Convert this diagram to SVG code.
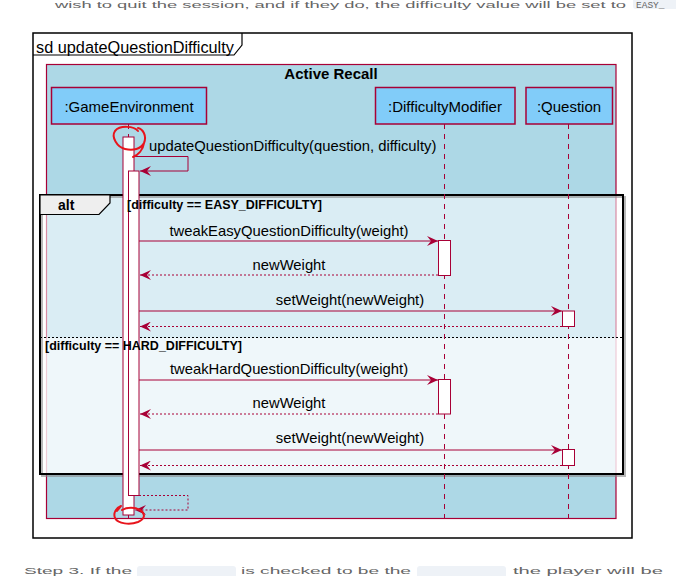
<svg xmlns="http://www.w3.org/2000/svg" width="676" height="576" viewBox="0 0 676 576">
<defs>
<style>
.t{font-family:"Liberation Sans",Arial,sans-serif;fill:#000}
.m{font-size:14.8px}
.p{font-size:15px}
.g{font-size:12.5px;font-weight:bold}
.pg{font-family:"Liberation Sans",Arial,sans-serif;font-size:9.5px;fill:#666}
.ln{stroke:#A80036;stroke-width:1;fill:none}
.dl{stroke:#A80036;stroke-width:1;fill:none;stroke-dasharray:2,2}
.life{stroke:#A80036;stroke-width:1;stroke-dasharray:5,5}
.act{fill:#fff;stroke:#A80036;stroke-width:1}
.part{fill:#81CCF9;stroke:#A80036;stroke-width:1.5}
.red{stroke:#E8141C;stroke-width:2;fill:none;stroke-linecap:round}
</style>
<marker id="ah" markerWidth="12" markerHeight="10" refX="11" refY="5" orient="auto" markerUnits="userSpaceOnUse">
<polygon points="0,0 11,5 0,10 4,5" fill="#A80036"/>
</marker>
</defs>
<rect width="676" height="576" fill="#fff"/>
<!-- page text fragments -->
<g id="page-text">
<text class="pg" x="55" y="8" textLength="571" lengthAdjust="spacingAndGlyphs">wish to quit the session, and if they do, the difficulty value will be set to</text>
<rect x="633" y="-6" width="50" height="15" rx="3" fill="#EEF2F7"/>
<text x="636" y="8" font-family="Liberation Mono,monospace" font-size="9.5" fill="#666">EASY_</text>
<text class="pg" x="24" y="574" textLength="108" lengthAdjust="spacingAndGlyphs">Step 3. If the</text>
<rect x="137" y="566" width="99" height="14" rx="3" fill="#EEF2F7"/>
<text class="pg" x="241" y="574" textLength="170" lengthAdjust="spacingAndGlyphs">is checked to be the</text>
<rect x="417" y="566" width="89" height="14" rx="3" fill="#EEF2F7"/>
<text class="pg" x="513" y="574" textLength="150" lengthAdjust="spacingAndGlyphs">the player will be</text>
</g>

<!-- outer frame -->
<g id="frame">
<rect x="33" y="33" width="599" height="505" fill="#fff" stroke="#000" stroke-width="1.5"/>
<path d="M33,55 H234 L242,45 V33" fill="none" stroke="#000" stroke-width="1.2"/>
<text class="t" x="36" y="53" font-size="16.3">sd updateQuestionDifficulty</text>
</g>

<!-- Active Recall box -->
<g id="box-active-recall">
<rect x="46.5" y="64.5" width="569.5" height="454" fill="#ADD8E6" stroke="#A80036" stroke-width="1.2"/>
<text class="t" x="331" y="79" font-size="15" font-weight="bold" text-anchor="middle">Active Recall</text>
</g>

<!-- alt fragment background -->
<g id="alt">
<rect x="40" y="195" width="583" height="142.5" fill="#fff" fill-opacity="0.55"/>
<rect x="40" y="337.5" width="583" height="136.5" fill="#fff" fill-opacity="0.8"/>
<rect x="42" y="197" width="583" height="279" fill="none" stroke="#888" stroke-width="2" opacity="0.6"/>
<rect x="40" y="195" width="583" height="279" fill="none" stroke="#000" stroke-width="2"/>
<path d="M40,195 H110 V203 L99,214.5 H40 Z" fill="#EEEEEE" stroke="#000" stroke-width="1.2"/>
<text class="t" x="58" y="210" font-size="14" font-weight="bold">alt</text>
<line x1="40" y1="337.5" x2="623" y2="337.5" stroke="#000" stroke-width="1" stroke-dasharray="2,2"/>
</g>

<!-- lifelines -->
<g id="lifelines">
<line class="life" x1="128.5" y1="124" x2="128.5" y2="524"/>
<line class="life" x1="444.5" y1="124" x2="444.5" y2="524"/>
<line class="life" x1="568.5" y1="124" x2="568.5" y2="524"/>
</g>

<!-- participants -->
<g id="p-game">
<rect class="part" x="51.5" y="87.5" width="155" height="36.5"/>
<text class="t p" x="129" y="112" text-anchor="middle">:GameEnvironment</text>
</g>
<g id="p-difficulty">
<rect class="part" x="375.5" y="87.5" width="139.5" height="36.5"/>
<text class="t p" x="445" y="112" text-anchor="middle">:DifficultyModifier</text>
</g>
<g id="p-question">
<rect class="part" x="526" y="87.5" width="86.5" height="36.5"/>
<text class="t p" x="569" y="112" text-anchor="middle">:Question</text>
</g>

<!-- activations -->
<g id="activations">
<rect class="act" x="123" y="137" width="11" height="378"/>
<rect class="act" x="128.5" y="171" width="10.5" height="324.5"/>
<rect class="act" x="438.5" y="240.5" width="12" height="35"/>
<rect class="act" x="562.5" y="311" width="12" height="15.5"/>
<rect class="act" x="438.5" y="379.5" width="12" height="34.5"/>
<rect class="act" x="562.5" y="449.5" width="12" height="16"/>
</g>

<!-- guards (drawn above activations) -->
<g id="alt-guards">
<text class="t g" x="127" y="209">[difficulty == EASY_DIFFICULTY]</text>
<text class="t g" x="45" y="350">[difficulty == HARD_DIFFICULTY]</text>
</g>

<!-- connectors -->
<g id="connectors">
<path class="ln" d="M134,156.5 H188 V171 H140" marker-end="url(#ah)"/>
<text class="t m" x="149" y="151">updateQuestionDifficulty(question, difficulty)</text>

<line class="ln" x1="139" y1="241" x2="438" y2="241" marker-end="url(#ah)"/>
<text class="t m" x="289" y="235.5" text-anchor="middle">tweakEasyQuestionDifficulty(weight)</text>
<line class="dl" x1="438" y1="275" x2="140" y2="275" marker-end="url(#ah)"/>
<text class="t m" x="289" y="269.5" text-anchor="middle">newWeight</text>
<line class="ln" x1="139" y1="311" x2="562" y2="311" marker-end="url(#ah)"/>
<text class="t m" x="350" y="305" text-anchor="middle">setWeight(newWeight)</text>
<line class="dl" x1="562" y1="326.5" x2="140" y2="326.5" marker-end="url(#ah)"/>

<line class="ln" x1="139" y1="380" x2="438" y2="380" marker-end="url(#ah)"/>
<text class="t m" x="289" y="374" text-anchor="middle">tweakHardQuestionDifficulty(weight)</text>
<line class="dl" x1="438" y1="414" x2="140" y2="414" marker-end="url(#ah)"/>
<text class="t m" x="289" y="408" text-anchor="middle">newWeight</text>
<line class="ln" x1="139" y1="450" x2="562" y2="450" marker-end="url(#ah)"/>
<text class="t m" x="350" y="443" text-anchor="middle">setWeight(newWeight)</text>
<line class="dl" x1="562" y1="465.5" x2="140" y2="465.5" marker-end="url(#ah)"/>

<path class="dl" d="M139,495.5 H188 V510 H135" marker-end="url(#ah)"/>
</g>

<!-- red hand-drawn annotations -->
<g id="annotations">
<path class="red" d="M138,131 C134,126 120,125 115,131 C111,137 117,147 125,149 C133,151 141,149 144,143 C147,136 143,129 138,128 M144,143 C143,150 138,155 133,157"/>
<path class="red" d="M121,506 C116,508 113,513 115,518 C118,524 130,525 138,522 C145,519 146,514 140,510 C135,507 127,507 122,510 M121,506 L117,511"/>
</g>
</svg>
